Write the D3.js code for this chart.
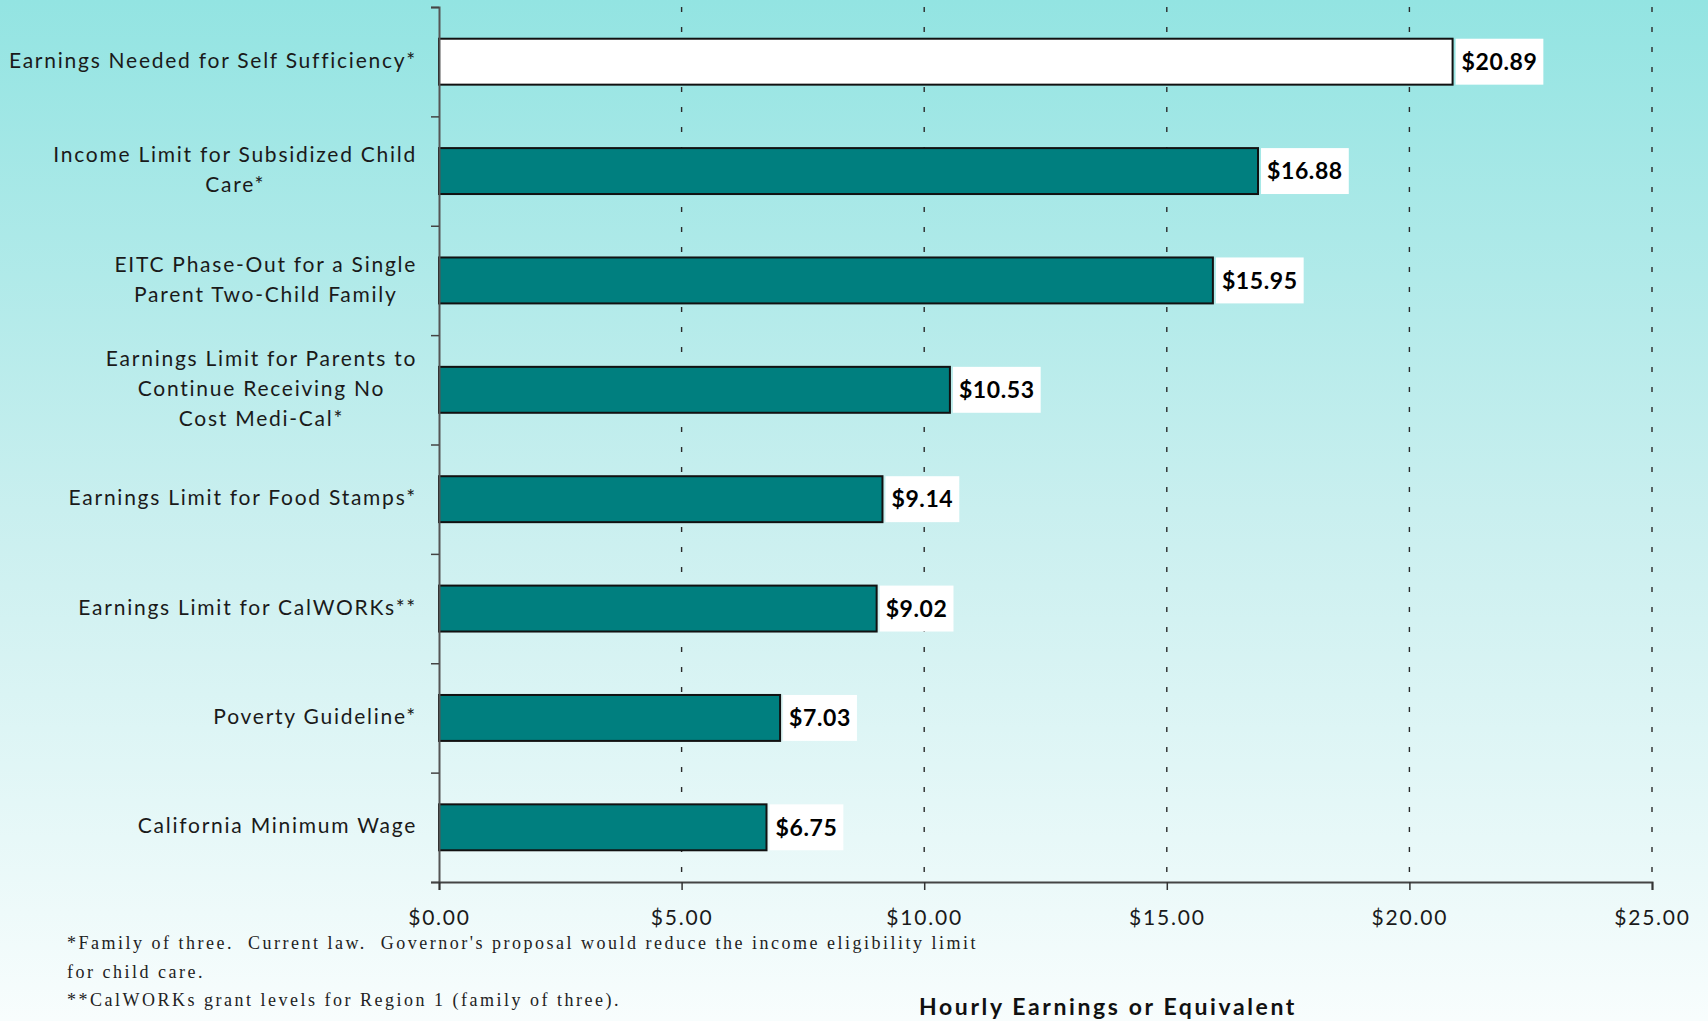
<!DOCTYPE html>
<html>
<head>
<meta charset="utf-8">
<script src="https://cdn.jsdelivr.net/npm/d3@7"></script>
<style>
  html, body { margin: 0; padding: 0; overflow: hidden; }
  svg { display: block; }
</style>
</head>
<body>
<svg id="chart" width="1708" height="1021"></svg>
<script>
// Hourly earnings thresholds, top to bottom
const categories = [
  "Earnings Needed for Self Sufficiency*",
  "Income Limit for Subsidized Child Care*",
  "EITC Phase-Out for a Single Parent Two-Child Family",
  "Earnings Limit for Parents to Continue Receiving No Cost Medi-Cal*",
  "Earnings Limit for Food Stamps*",
  "Earnings Limit for CalWORKs**",
  "Poverty Guideline*",
  "California Minimum Wage"
];
// Wrapped lines for each category label
const labelLines = [
  ["Earnings Needed for Self Sufficiency*"],
  ["Income Limit for Subsidized Child", "Care*"],
  ["EITC Phase-Out for a Single", "Parent Two-Child Family"],
  ["Earnings Limit for Parents to", "Continue Receiving No", "Cost Medi-Cal*"],
  ["Earnings Limit for Food Stamps*"],
  ["Earnings Limit for CalWORKs**"],
  ["Poverty Guideline*"],
  ["California Minimum Wage"]
];
const values = [20.89, 16.88, 15.95, 10.53, 9.14, 9.02, 7.03, 6.75];
const highlighted = ["Earnings Needed for Self Sufficiency*"];
const xTicks = [0, 5, 10, 15, 20, 25];
const axisTitle = "Hourly Earnings or Equivalent";
const footnotes = [
  "*Family of three.  Current law.  Governor's proposal would reduce the income eligibility limit",
  "for child care.",
  "**CalWORKs grant levels for Region 1 (family of three)."
];

const svg = d3.select("#chart");
const W = 1708, H = 1021;
const plot = { left: 439, right: 1652, top: 7, bottom: 882 };

// Background wash
const defs = svg.append("defs");
const grad = defs.append("linearGradient")
  .attr("id", "bg").attr("x1", 0).attr("y1", 0).attr("x2", 0).attr("y2", 1);
grad.append("stop").attr("offset", "0%").attr("stop-color", "#93e4e2");
grad.append("stop").attr("offset", "50%").attr("stop-color", "#c9efef");
grad.append("stop").attr("offset", "100%").attr("stop-color", "#f8fdfd");
svg.append("rect").attr("width", W).attr("height", H).attr("fill", "url(#bg)");

const x = d3.scaleLinear().domain([0, 25]).range([plot.left, plot.right]);
const y = d3.scaleBand().domain(categories)
  .range([plot.top, plot.bottom]).paddingInner(0.58).paddingOuter(0.29);
const yEdge = d3.scaleLinear().domain([0, categories.length]).range([plot.top, plot.bottom]);

// Dashed vertical gridlines
svg.append("g").selectAll("line")
  .data(xTicks.filter(d => d > 0))
  .join("line")
  .attr("x1", d => x(d)).attr("x2", d => x(d))
  .attr("y1", plot.top).attr("y2", plot.bottom)
  .attr("stroke", "#2a2a2a").attr("stroke-width", 1.4)
  .attr("stroke-dasharray", "5,15");

// Bars
svg.append("g").selectAll("rect")
  .data(categories)
  .join("rect")
  .attr("x", x(0))
  .attr("y", d => y(d))
  .attr("width", (d, i) => x(values[i]) - x(0))
  .attr("height", y.bandwidth())
  .attr("fill", d => highlighted.includes(d) ? "#ffffff" : "#007f7f")
  .attr("stroke", "#111").attr("stroke-width", 2);

// Value labels on white tags
const valueFont = "Lato, 'DejaVu Sans', sans-serif";
const tags = svg.append("g").selectAll("g")
  .data(categories)
  .join("g")
  .attr("transform", (d, i) => `translate(${x(values[i]) + 3},${y(d)})`);
tags.append("text")
  .attr("x", 6)
  .attr("y", y.bandwidth() / 2)
  .attr("dy", "0.36em")
  .attr("font-family", valueFont)
  .attr("font-weight", "bold")
  .attr("font-size", 23)
  .attr("letter-spacing", 0.6)
  .attr("fill", "#000")
  .text((d, i) => "$" + values[i].toFixed(2));
tags.insert("rect", "text")
  .attr("x", 0).attr("y", 0)
  .attr("height", y.bandwidth())
  .attr("width", function () {
    return this.parentNode.querySelector("text").getComputedTextLength() + 12;
  })
  .attr("fill", "#fff");

// Y axis: ticks on band edges
const yAxis = svg.append("g")
  .attr("transform", `translate(${plot.left},0)`)
  .call(d3.axisLeft(yEdge).tickValues(d3.range(categories.length + 1)).tickSize(8).tickFormat(""));
yAxis.select(".domain").attr("stroke", "#555").attr("stroke-width", 2);
yAxis.selectAll(".tick line").attr("stroke", "#444").attr("stroke-width", 1.5);

// X axis
const labelFont = "Lato, 'Open Sans', sans-serif";
const xAxis = svg.append("g")
  .attr("transform", `translate(0,${plot.bottom})`)
  .call(d3.axisBottom(x).tickValues(xTicks).tickSize(8).tickPadding(20)
    .tickFormat(d => "$" + d.toFixed(2)));
xAxis.select(".domain").attr("stroke", "#444").attr("stroke-width", 2);
xAxis.selectAll(".tick line").attr("stroke", "#333").attr("stroke-width", 1.5);
xAxis.selectAll(".tick text")
  .attr("font-family", labelFont).attr("font-size", 21)
  .attr("letter-spacing", 1.8).attr("fill", "#1a1a1a");

// Category labels: single lines right-aligned, wrapped ones centred on their block
const labelRight = 417, lineGap = 30;
const catG = svg.append("g")
  .attr("font-family", labelFont).attr("font-size", 21)
  .attr("letter-spacing", 1.75).attr("fill", "#1a1a1a");
categories.forEach((c, i) => {
  const lines = labelLines[i];
  const cy = y(c) + y.bandwidth() / 2 - 1;
  const t = catG.append("text").attr("y", cy - (lines.length - 1) * lineGap / 2);
  lines.forEach((ln, j) => {
    t.append("tspan").attr("dy", j === 0 ? "0.34em" : lineGap).text(ln);
  });
  if (lines.length === 1) {
    t.attr("text-anchor", "end");
    t.selectAll("tspan").attr("x", labelRight);
  } else {
    const widths = [];
    t.selectAll("tspan").each(function () { widths.push(this.getComputedTextLength()); });
    const cx = labelRight - d3.max(widths) / 2;
    t.attr("text-anchor", "middle");
    t.selectAll("tspan").attr("x", cx);
  }
});

// Axis title
svg.append("text")
  .attr("x", 1108).attr("y", 1015)
  .attr("text-anchor", "middle")
  .attr("font-family", labelFont).attr("font-weight", "bold")
  .attr("font-size", 23).attr("letter-spacing", 2.6).attr("fill", "#111")
  .text(axisTitle);

// Footnotes
svg.append("g")
  .attr("font-family", "'Liberation Serif', 'DejaVu Serif', serif")
  .attr("font-size", 18).attr("letter-spacing", 2.5).attr("fill", "#222")
  .selectAll("text")
  .data(footnotes)
  .join("text")
  .attr("x", 67)
  .attr("y", (d, i) => 949 + i * 28.5)
  .attr("xml:space", "preserve")
  .style("white-space", "pre")
  .text(d => d);
</script>
</body>
</html>
